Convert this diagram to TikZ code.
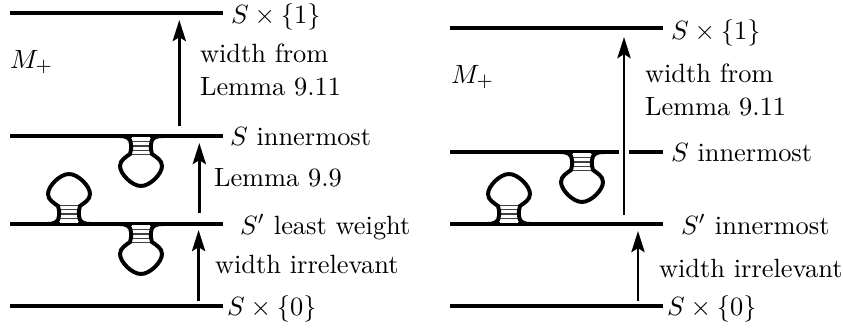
\documentclass[tikz,border=0pt]{standalone}
\usetikzlibrary{arrows.meta}
\tikzset{
  sheet/.style={line width=1.5pt},
  up/.style={line width=1.1pt,-{Stealth[length=8pt,width=5pt,inset=1.5pt]}},
  lab/.style={anchor=base west,inner sep=0pt,outer sep=0pt},
  rung/.style={line width=0.55pt,black!75},
  bulb/.style={line width=1.5pt}
}
\newcommand{\tube}[3]{% centre x, sheet y, direction
  \begin{scope}[shift={(#1,#2)},yscale=#3]
    \fill[white] (-9,1) rectangle (9,18);
    \foreach \r in {5.5,10,14.5,18.5}{\draw[rung] (-11,\r) -- (11,\r);}
    \draw[bulb] (-22,0) .. controls (-14,0) and (-10.5,2) .. (-10,8)
      .. controls (-10,12) and (-9.5,15) .. (-11,18)
      .. controls (-15,21) and (-21,24) .. (-21,30)
      .. controls (-21,38) and (-9,50) .. (0,50)
      .. controls (9,50) and (21,38) .. (21,30)
      .. controls (21,24) and (15,21) .. (11,18)
      .. controls (9.5,15) and (10,12) .. (10,8)
      .. controls (10.5,2) and (14,0) .. (22,0);
  \end{scope}}
\begin{document}
\begin{tikzpicture}[x=0.3788pt,y=-0.3788pt]
\useasboundingbox (0,0) rectangle (843,329);
% left
\coordinate (la1) at (10,13);   \coordinate (la2) at (223,13);
\coordinate (lb1) at (10,136);  \coordinate (lb2) at (223,136);
\coordinate (lc1) at (10,224);  \coordinate (lc2) at (223,224);
\coordinate (ld1) at (10,306);  \coordinate (ld2) at (223,306);
\draw[sheet] (la1) -- (la2);
\draw[sheet] (lb1) -- (lb2);
\draw[sheet] (lc1) -- (lc2);
\draw[sheet] (ld1) -- (ld2);
\tube{141}{136}{1}
\tube{69}{224}{-1}
\tube{141}{224}{1}
\coordinate (p1) at (179.3,126); \coordinate (q1) at (179.3,20);
\coordinate (p2) at (199.3,213); \coordinate (q2) at (199.3,143);
\coordinate (p3) at (198.6,301); \coordinate (q3) at (198.6,230);
\draw[up] (p1) -- (q1);
\draw[up] (p2) -- (q2);
\draw[up] (p3) -- (q3);
\node[lab] (t1) at (231,23) {$S\times\{1\}$};
\node[lab] (t2) at (200,62) {width from};
\node[lab] (t3) at (200,95) {Lemma 9.11};
\node[lab] (t4) at (10,68) {$M_+$};
\node[lab] (t5) at (230,145) {$S$ innermost};
\node[lab] (t6) at (214,186) {Lemma 9.9};
\node[lab] (t7) at (240,234) {$S'$ least weight};
\node[lab] (t8) at (215,273) {width irrelevant};
\node[lab] (t9) at (227,315) {$S\times\{0\}$};
% right
\coordinate (ra1) at (450,28);  \coordinate (ra2) at (663,28);
\coordinate (rb1) at (450,152); \coordinate (rb2) at (619,152);
\coordinate (rb3) at (629,152); \coordinate (rb4) at (663,152);
\coordinate (rc1) at (450,224); \coordinate (rc2) at (663,224);
\coordinate (rd1) at (450,306); \coordinate (rd2) at (663,306);
\draw[sheet] (ra1) -- (ra2);
\draw[sheet] (rb1) -- (rb2);
\draw[sheet] (rb3) -- (rb4);
\draw[sheet] (rc1) -- (rc2);
\draw[sheet] (rd1) -- (rd2);
\tube{582}{152}{1}
\tube{509}{224}{-1}
\coordinate (p4) at (624,215); \coordinate (q4) at (624,37);
\coordinate (p5) at (638,301); \coordinate (q5) at (638,231);
\draw[up] (p4) -- (q4);
\draw[up] (p5) -- (q5);
\node[lab] (u1) at (671,39) {$S\times\{1\}$};
\node[lab] (u2) at (645,82) {width from};
\node[lab] (u3) at (645,115) {Lemma 9.11};
\node[lab] (u4) at (451,83) {$M_+$};
\node[lab] (u5) at (671,161) {$S$ innermost};
\node[lab] (u6) at (681,234) {$S'$ innermost};
\node[lab] (u7) at (659,277) {width irrelevant};
\node[lab] (u8) at (667,315) {$S\times\{0\}$};
\end{tikzpicture}
\end{document}
